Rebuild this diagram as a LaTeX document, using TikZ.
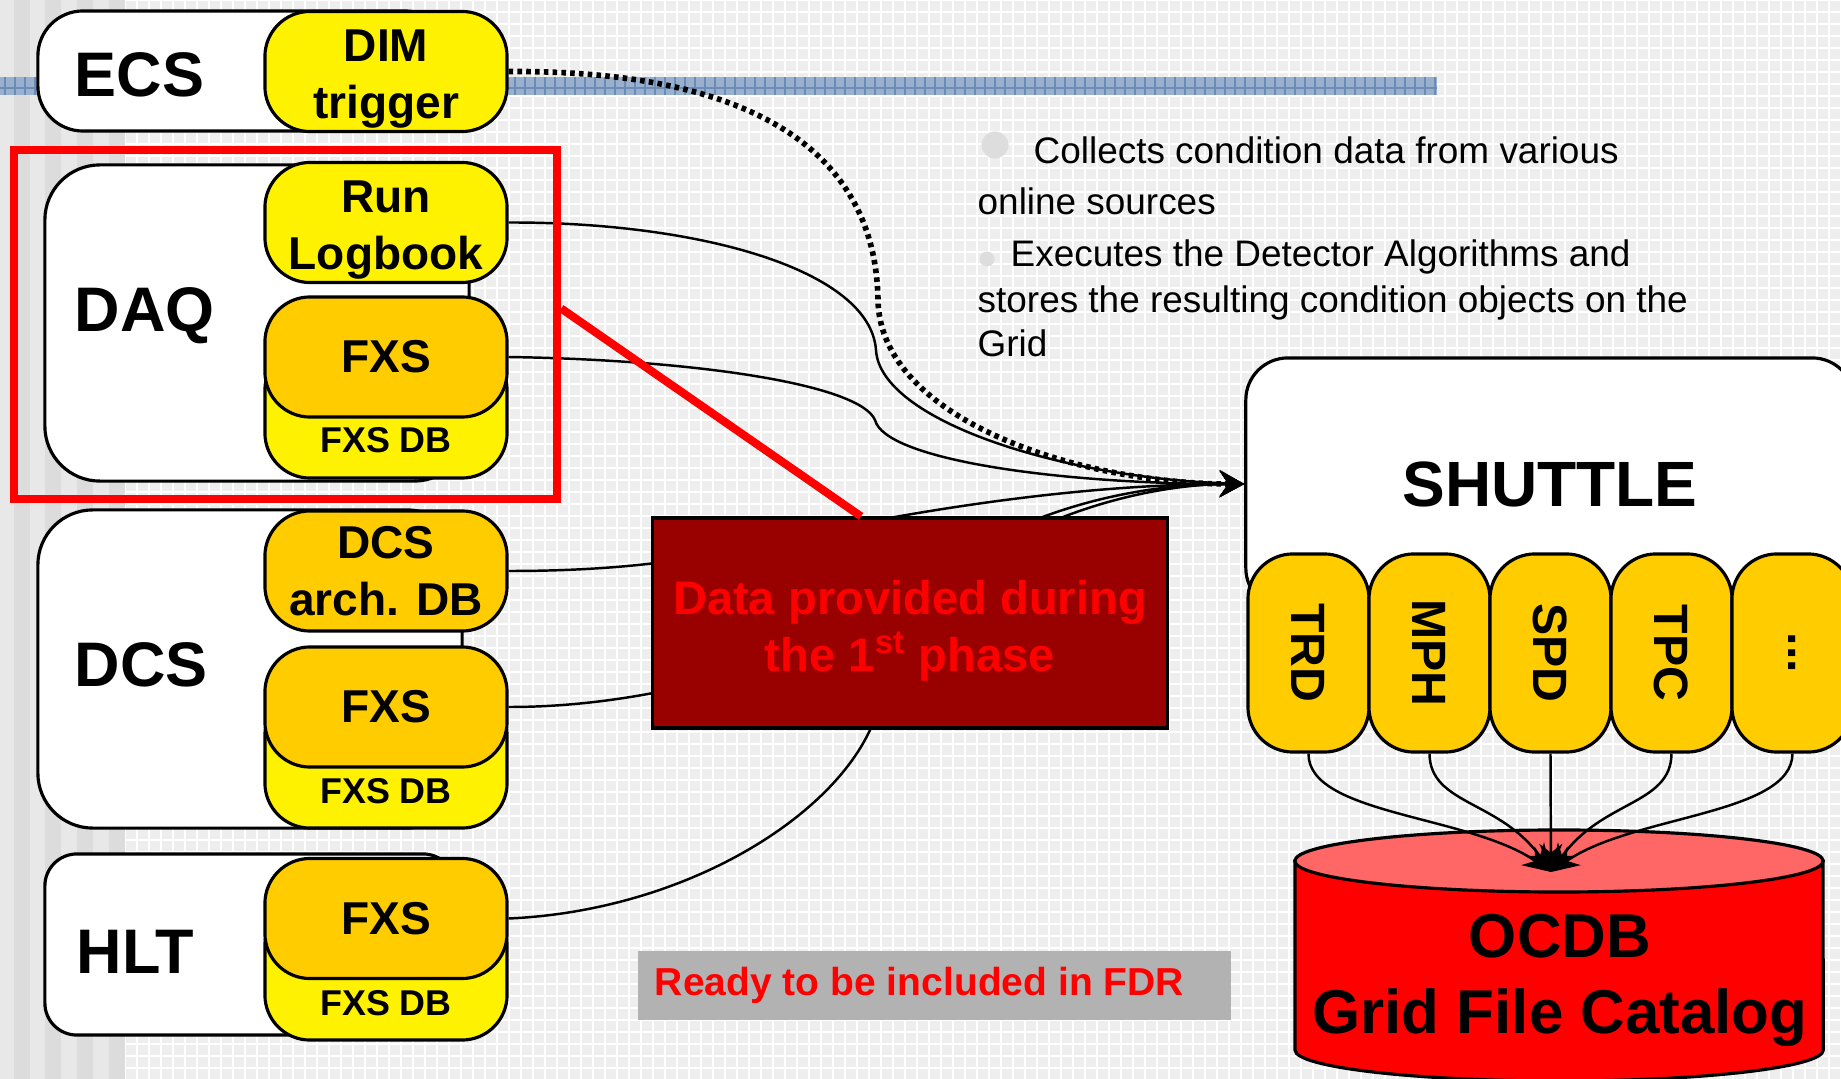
\documentclass[tikz,border=0pt]{standalone}
\usepackage{fontspec}
\setmainfont{Liberation Sans}
\usepackage{graphicx}
\usetikzlibrary{arrows.meta}
\definecolor{fxsorange}{HTML}{FFCC00}
\definecolor{phasered}{HTML}{990000}
\definecolor{readygray}{HTML}{B2B2B2}
\definecolor{ocdbtop}{HTML}{FF6666}
\definecolor{barblue}{HTML}{9AB0CC}
\definecolor{barline}{HTML}{6A8CB8}
\definecolor{bggray}{HTML}{EEEEEE}
\definecolor{stripe}{HTML}{DCDCDC}
\definecolor{stripelight}{HTML}{E8E8E8}
\definecolor{bullgray}{HTML}{DDDDDD}

\begin{document}
\begin{tikzpicture}[x=0.01cm, y=-0.01cm,
  sysbox/.style={draw, fill=white, line width=0.9pt, inner sep=0},
  syslabel/.style={anchor=west, inner sep=0, font=\fontsize{17.9}{20}\selectfont\bfseries},
  subbox/.style={draw, line width=0.9pt, rounded corners=0.45cm, minimum width=2.42cm, minimum height=1.2cm, align=center, inner sep=0, font=\fontsize{13.1}{16.2}\selectfont\bfseries},
  dbtext/.style={anchor=base, inner sep=0, font=\fontsize{10.2}{12}\selectfont\bfseries},
  detbox/.style={draw, fill=fxsorange, line width=0.9pt, rounded corners=0.45cm, minimum width=1.21cm, minimum height=1.98cm, inner sep=0, font=\fontsize{13.7}{16}\selectfont\bfseries},
  bulltext/.style={anchor=base west, inner sep=0, font=\fontsize{10.5}{12}\selectfont},
  flow/.style={line width=0.7pt, -{Stealth[length=7pt, width=7.5pt, inset=2.5pt]}},
  detflow/.style={line width=0.7pt, -{Stealth[length=8pt, width=6.5pt, inset=2.5pt]}}]
\useasboundingbox (0,0) rectangle (1841,1079);
\clip (0,0) rectangle (1841,1079);

% background
\fill[bggray] (0,0) rectangle (1841,1079);
\foreach \x in {125,137,...,1841} \draw[white, line width=0.3pt] (\x,0) -- (\x,1079);
\foreach \y in {0,12,...,1079} \draw[white, line width=0.3pt] (125,\y) -- (1841,\y);
\fill[stripelight] (0,0) rectangle (125,1079);
\foreach \s in {14,45,77,109} \fill[stripe] (\s,0) rectangle ({\s+16},1079);

% title bar
\fill[barblue] (0,77) rectangle (1437,95);
\foreach \x in {5,15,...,1435} \draw[barline, line width=0.4pt] (\x,77) -- (\x,95);
\draw[barline, line width=0.4pt] (0,88) -- (1437,88);

% online systems
\node[sysbox, rounded corners=0.45cm, minimum width=4.12cm, minimum height=1.2cm] (ecs) at (244,71) {};
\node[sysbox, rounded corners=0.55cm, minimum width=4.24cm, minimum height=3.16cm] (daq) at (257,323) {};
\node[sysbox, rounded corners=0.55cm, minimum width=4.24cm, minimum height=3.18cm] (dcs) at (250,669) {};
\node[sysbox, rounded corners=0.32cm, minimum width=4.10cm, minimum height=1.81cm] (hlt) at (250,944.5) {};
\node[syslabel] (ecslbl) at (74,75) {ECS};
\node[syslabel] (daqlbl) at (74,316) {DAQ};
\node[syslabel] (dcslbl) at (74,665) {DCS};
\node[syslabel] (hltlbl) at (76,952) {HLT};

\node[subbox, fill=yellow] (dim) at (386,71.5) {\rule{0pt}{0.46cm}DIM\\trigger};
\node[subbox, fill=yellow] (runlog) at (386,222.5) {\rule{0pt}{0.46cm}Run\\Logbook};
\node[subbox, fill=yellow, minimum height=1.33cm] (daqdb) at (386,411.5) {};
\node[subbox, fill=fxsorange] (daqfxs) at (386,357) {FXS};
\node[dbtext] (daqdbtxt) at (386,453) {FXS DB};
\node[subbox, fill=fxsorange] (dcsarch) at (386,571) {DCS\\arch. DB};
\node[subbox, fill=yellow, minimum height=1.38cm] (dcsdb) at (386,759) {};
\node[subbox, fill=fxsorange] (dcsfxs) at (386,707) {FXS};
\node[dbtext] (dcsdbtxt) at (386,803) {FXS DB};
\node[subbox, fill=yellow, minimum height=1.40cm] (hltdb) at (386,970) {};
\node[subbox, fill=fxsorange] (hltfxs) at (386,918.5) {FXS};
\node[dbtext] (hltdbtxt) at (386,1015) {FXS DB};

% shuttle and detectors
\node[sysbox, rounded corners=0.42cm, minimum width=6.08cm, minimum height=2.52cm, font=\fontsize{18.2}{20}\selectfont\bfseries] (shut) at (1550,484) {SHUTTLE};
\foreach \d/\n [count=\i] in {TRD/trd, MPH/mph, SPD/spd, TPC/tpc}
  \node[detbox] (\n) at ({1187.5+121*\i},653) {\rotatebox{-90}{\d}};
\node[detbox] (more) at (1792.5,653) {\rotatebox{-90}{...}};

% notes
\fill[bullgray] (995,145) circle[radius=0.135cm];
\node[bulltext] (col1) at (1033,164) {Collects condition data from various};
\node[bulltext] (col2) at (977,215) {online sources};
\fill[bullgray] (987,259) circle[radius=0.075cm];
\node[bulltext] (exe1) at (1010,267) {Executes the Detector Algorithms and};
\node[bulltext] (exe2) at (977,313) {stores the resulting condition objects on the};
\node[bulltext] (exe3) at (977,357) {Grid};

% data flow into the shuttle
\draw[flow, line width=1.6pt, dash pattern=on 1.3pt off 1.2pt] (dim.east) .. controls (780,70) and (876,170) .. (878,300) .. controls (880,420) and (1080,484) .. (shut.west);
\draw[flow] (runlog.east) .. controls (700,222) and (870,270) .. (876,350) .. controls (880,420) and (1060,478) .. (shut.west);
\draw[flow] (daqfxs.east) .. controls (700,360) and (860,385) .. (875,420) .. controls (885,460) and (1060,484) .. (shut.west);
\draw[flow] (dcsarch.east) .. controls (620,571) and (700,560) .. (780,540) .. controls (860,522) and (1050,484) .. (shut.west);
\draw[flow] (dcsfxs.east) .. controls (600,707) and (700,690) .. (850,640) .. controls (930,560) and (1060,484) .. (shut.west);
\draw[flow] (hltfxs.east) .. controls (700,910) and (860,800) .. (880,700) .. controls (900,560) and (1100,484) .. (shut.west);

% first phase
\node[draw=red, line width=2.3pt, minimum width=5.43cm, minimum height=3.49cm, inner sep=0] (daqframe) at (285.5,324.5) {};
\node[draw, fill=phasered, line width=0.9pt, minimum width=5.14cm, minimum height=2.10cm, align=center, text=red, font=\fontsize{13.4}{16.2}\selectfont\bfseries] (phase1) at (910,623) {\rule{0pt}{0.5cm}Data provided during\\the 1\textsuperscript{st} phase};
\draw[red, line width=2.3pt] ([yshift=0.16cm]daqframe.east) -- ([xshift=-0.49cm]phase1.north);
\node[fill=readygray, minimum width=5.93cm, minimum height=0.69cm, inner sep=0, text=red, font=\fontsize{11.1}{13}\selectfont\bfseries] (fdr) at (934.5,985.5) {Ready to be included in FDR\hspace*{0.3cm}};

% OCDB
\filldraw[fill=red, line width=0.9pt] (1295,861) -- (1295,1050) arc[start angle=180, end angle=360, x radius=2.64cm, y radius=0.31cm] -- (1823,861) -- cycle;
\filldraw[fill=ocdbtop, line width=0.9pt] (1559,861) ellipse[x radius=2.64cm, y radius=0.31cm];
\node[align=center, inner sep=0, font=\fontsize{17.6}{21.6}\selectfont\bfseries] (ocdb) at (1560,980) {OCDB\\Grid File Catalog};

\coordinate (tip) at (1551,872);
\draw[detflow] (trd.south) .. controls (1308,815) and (1470,815) .. (tip);
\draw[detflow] (mph.south) .. controls (1430,805) and (1500,800) .. (tip);
\draw[detflow] (spd.south) -- (tip);
\draw[detflow] (tpc.south) .. controls (1671,805) and (1602,800) .. (tip);
\draw[detflow] (more.south) .. controls (1792,815) and (1632,815) .. (tip);
\end{tikzpicture}
\end{document}
